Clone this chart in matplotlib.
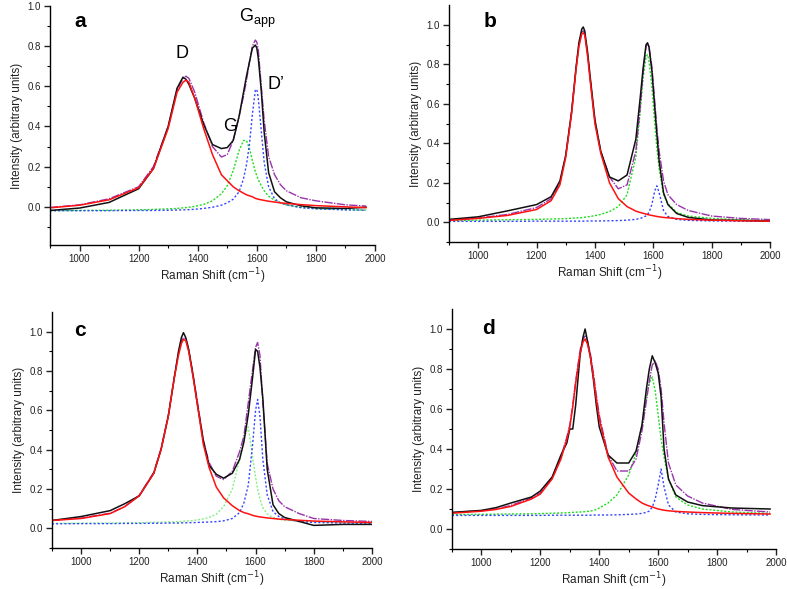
import matplotlib
matplotlib.use('Agg')
import matplotlib.pyplot as plt
from matplotlib.ticker import MultipleLocator, FormatStrFormatter

plt.rcParams['font.family'] = ['Liberation Sans', 'DejaVu Sans']

# ---- panel a ----
xa = [900, 1000, 1100, 1200, 1250, 1300, 1330, 1350, 1360, 1370, 1390, 1420, 1450, 1480, 1500, 1520,
      1540, 1555, 1565, 1575, 1585, 1595, 1600, 1605, 1615, 1625, 1640, 1660, 1680, 1700, 1750, 1800, 1900, 1970]
a_black = [-0.018, -0.006, 0.022, 0.09, 0.19, 0.40, 0.59, 0.645, 0.635, 0.61, 0.54, 0.41, 0.31, 0.29, 0.295, 0.33,
           0.45, 0.57, 0.65, 0.72, 0.79, 0.805, 0.79, 0.74, 0.58, 0.37, 0.17, 0.075, 0.045, 0.025, 0.005, -0.005, -0.008, -0.002]
a_red = [-0.005, 0.008, 0.035, 0.095, 0.19, 0.39, 0.57, 0.62, 0.63, 0.62, 0.54, 0.39, 0.26, 0.16, 0.13, 0.10,
         0.08, 0.068, 0.06, 0.055, 0.05, 0.042, 0.04, 0.038, 0.035, 0.032, 0.028, 0.024, 0.02, 0.017, 0.011, 0.006, 0.0, -0.004]
a_green = [-0.019, -0.018, -0.017, -0.015, -0.013, -0.010, -0.008, -0.005, -0.004, -0.002, 0.002, 0.012, 0.03, 0.065, 0.105, 0.18,
           0.28, 0.33, 0.33, 0.29, 0.23, 0.175, 0.155, 0.135, 0.105, 0.08, 0.053, 0.033, 0.02, 0.01, -0.003, -0.008, -0.014, -0.016]
a_blue = [-0.019, -0.019, -0.019, -0.018, -0.018, -0.017, -0.016, -0.015, -0.015, -0.014, -0.012, -0.008, -0.002, 0.008, 0.02, 0.038,
          0.075, 0.14, 0.21, 0.31, 0.46, 0.58, 0.585, 0.54, 0.38, 0.22, 0.10, 0.04, 0.02, 0.01, -0.004, -0.01, -0.015, -0.017]
a_fit = [-0.003, 0.01, 0.04, 0.10, 0.20, 0.40, 0.58, 0.64, 0.65, 0.64, 0.57, 0.42, 0.30, 0.248, 0.26, 0.33,
         0.45, 0.55, 0.63, 0.72, 0.80, 0.83, 0.82, 0.78, 0.60, 0.43, 0.25, 0.16, 0.11, 0.08, 0.045, 0.03, 0.01, 0.004]

# ---- panel b ----
xb = [900, 1000, 1100, 1200, 1250, 1280, 1300, 1320, 1335, 1345, 1355, 1360, 1365, 1375, 1385, 1400, 1420, 1450, 1480,
      1510, 1540, 1555, 1565, 1575, 1580, 1585, 1595, 1605, 1612, 1620, 1635, 1650, 1680, 1720, 1800, 1900, 2000]
b_black = [0.015, 0.028, 0.058, 0.09, 0.13, 0.21, 0.34, 0.56, 0.78, 0.91, 0.98, 0.99, 0.97, 0.86, 0.72, 0.52, 0.36, 0.23, 0.21,
           0.24, 0.42, 0.63, 0.78, 0.90, 0.91, 0.89, 0.77, 0.58, 0.45, 0.31, 0.15, 0.09, 0.045, 0.025, 0.012, 0.01, 0.006]
b_red = [0.01, 0.02, 0.035, 0.065, 0.11, 0.19, 0.33, 0.55, 0.77, 0.89, 0.955, 0.96, 0.95, 0.84, 0.70, 0.50, 0.35, 0.20, 0.12,
         0.08, 0.057, 0.05, 0.046, 0.042, 0.04, 0.038, 0.035, 0.032, 0.03, 0.028, 0.025, 0.023, 0.019, 0.015, 0.011, 0.008, 0.006]
b_green = [0.009, 0.011, 0.013, 0.015, 0.017, 0.018, 0.019, 0.021, 0.022, 0.023, 0.024, 0.025, 0.026, 0.028, 0.03, 0.034, 0.04, 0.055, 0.08,
           0.14, 0.33, 0.56, 0.73, 0.84, 0.85, 0.82, 0.69, 0.50, 0.38, 0.27, 0.14, 0.095, 0.05, 0.032, 0.02, 0.013, 0.01]
b_blue = [0.005, 0.005, 0.005, 0.006, 0.006, 0.006, 0.006, 0.006, 0.006, 0.006, 0.006, 0.006, 0.006, 0.007, 0.007, 0.007, 0.007, 0.008, 0.009,
          0.011, 0.015, 0.02, 0.025, 0.033, 0.04, 0.05, 0.09, 0.16, 0.185, 0.15, 0.06, 0.03, 0.015, 0.01, 0.007, 0.006, 0.005]
b_fit = [0.012, 0.022, 0.04, 0.075, 0.12, 0.20, 0.34, 0.56, 0.78, 0.90, 0.965, 0.97, 0.96, 0.85, 0.71, 0.51, 0.36, 0.23, 0.17,
         0.19, 0.36, 0.58, 0.76, 0.89, 0.905, 0.895, 0.79, 0.61, 0.48, 0.36, 0.21, 0.14, 0.09, 0.06, 0.032, 0.02, 0.014]

# ---- panel c ----
xc = [900, 1000, 1100, 1150, 1200, 1250, 1275, 1300, 1320, 1335, 1345, 1352, 1360, 1370, 1385, 1400, 1420, 1440, 1465,
      1490, 1520, 1545, 1560, 1575, 1590, 1600, 1607, 1615, 1625, 1640, 1660, 1680, 1700, 1750, 1800, 1900, 2000]
c_black = [0.04, 0.06, 0.09, 0.125, 0.165, 0.28, 0.40, 0.57, 0.76, 0.90, 0.97, 0.995, 0.97, 0.91, 0.78, 0.63, 0.45, 0.32, 0.275,
           0.255, 0.28, 0.35, 0.44, 0.58, 0.77, 0.91, 0.90, 0.82, 0.66, 0.30, 0.12, 0.075, 0.055, 0.035, 0.015, 0.02, 0.02]
c_red = [0.04, 0.05, 0.075, 0.11, 0.165, 0.28, 0.40, 0.57, 0.76, 0.88, 0.94, 0.96, 0.955, 0.90, 0.77, 0.63, 0.43, 0.31, 0.21,
         0.155, 0.115, 0.09, 0.08, 0.074, 0.066, 0.062, 0.06, 0.058, 0.056, 0.053, 0.05, 0.047, 0.045, 0.041, 0.037, 0.033, 0.03]
c_green = [0.025, 0.026, 0.027, 0.028, 0.029, 0.03, 0.031, 0.032, 0.033, 0.034, 0.035, 0.036, 0.037, 0.038, 0.04, 0.043, 0.048, 0.055, 0.072,
           0.11, 0.2, 0.35, 0.46, 0.515, 0.36, 0.26, 0.2, 0.15, 0.105, 0.073, 0.055, 0.046, 0.042, 0.036, 0.033, 0.03, 0.029]
c_blue = [0.023, 0.024, 0.024, 0.025, 0.025, 0.026, 0.026, 0.027, 0.027, 0.027, 0.028, 0.028, 0.028, 0.029, 0.029, 0.03, 0.031, 0.032, 0.034,
          0.038, 0.05, 0.08, 0.13, 0.22, 0.43, 0.60, 0.655, 0.57, 0.35, 0.17, 0.085, 0.06, 0.048, 0.035, 0.03, 0.027, 0.026]
c_fit = [0.04, 0.052, 0.077, 0.11, 0.168, 0.285, 0.405, 0.575, 0.765, 0.89, 0.95, 0.97, 0.965, 0.91, 0.78, 0.645, 0.45, 0.335, 0.265,
         0.248, 0.29, 0.39, 0.47, 0.64, 0.81, 0.92, 0.945, 0.88, 0.64, 0.33, 0.20, 0.14, 0.11, 0.075, 0.05, 0.04, 0.035]

# ---- panel d ----
xd = [900, 1000, 1050, 1100, 1170, 1200, 1240, 1270, 1290, 1300, 1310, 1320, 1335, 1345, 1352, 1360, 1370, 1380, 1390,
      1400, 1430, 1460, 1500, 1525, 1545, 1560, 1570, 1580, 1590, 1600, 1610, 1620, 1635, 1660, 1700, 1750, 1850, 1980]
d_black = [0.083, 0.093, 0.107, 0.13, 0.16, 0.19, 0.26, 0.37, 0.43, 0.50, 0.50, 0.62, 0.87, 0.96, 1.0, 0.94, 0.86, 0.75, 0.62,
           0.51, 0.37, 0.33, 0.33, 0.39, 0.52, 0.70, 0.80, 0.866, 0.83, 0.78, 0.66, 0.40, 0.25, 0.17, 0.135, 0.117, 0.105, 0.10]
d_red = [0.079, 0.089, 0.098, 0.113, 0.15, 0.175, 0.25, 0.35, 0.45, 0.51, 0.61, 0.73, 0.88, 0.935, 0.95, 0.925, 0.86, 0.76, 0.65,
         0.55, 0.36, 0.26, 0.18, 0.15, 0.13, 0.12, 0.115, 0.11, 0.105, 0.10, 0.097, 0.094, 0.091, 0.088, 0.085, 0.082, 0.078, 0.075]
d_green = [0.072, 0.073, 0.074, 0.075, 0.076, 0.077, 0.079, 0.08, 0.081, 0.082, 0.083, 0.084, 0.085, 0.086, 0.087, 0.088, 0.09, 0.093, 0.097,
           0.105, 0.13, 0.17, 0.27, 0.38, 0.52, 0.66, 0.73, 0.76, 0.69, 0.57, 0.45, 0.36, 0.25, 0.16, 0.12, 0.10, 0.085, 0.078]
d_blue = [0.068, 0.068, 0.068, 0.068, 0.068, 0.068, 0.069, 0.069, 0.069, 0.069, 0.069, 0.069, 0.069, 0.069, 0.069, 0.069, 0.069, 0.07, 0.07,
          0.07, 0.07, 0.071, 0.073, 0.075, 0.078, 0.083, 0.09, 0.11, 0.15, 0.22, 0.30, 0.21, 0.12, 0.085, 0.076, 0.073, 0.071, 0.07]
d_fit = [0.082, 0.092, 0.10, 0.118, 0.155, 0.18, 0.255, 0.36, 0.46, 0.52, 0.62, 0.74, 0.895, 0.95, 0.965, 0.94, 0.875, 0.78, 0.67,
         0.57, 0.37, 0.29, 0.29, 0.35, 0.49, 0.64, 0.74, 0.82, 0.84, 0.80, 0.70, 0.53, 0.33, 0.22, 0.165, 0.13, 0.098, 0.085]

panels = [
    ('a', [0.0635, 0.584, 0.413, 0.406], (-0.19, 1.0), (0.075, 0.933), xa, a_black, a_red, a_green, a_blue, a_fit, '#22dd22'),
    ('b', [0.5705, 0.589, 0.408, 0.402], (-0.1, 1.1), (0.108, 0.932), xb, b_black, b_red, b_green, b_blue, b_fit, '#22dd22'),
    ('c', [0.066, 0.0696, 0.4066, 0.4007], (-0.1, 1.1), (0.068, 0.92), xc, c_black, c_red, c_green, c_blue, c_fit, '#88ee88'),
    ('d', [0.5743, 0.0679, 0.4117, 0.4075], (-0.1, 1.1), (0.094, 0.917), xd, d_black, d_red, d_green, d_blue, d_fit, '#22dd22'),
]

fig = plt.figure(figsize=(7.87, 5.89), dpi=100)

for letter, rect, ylim, lpos, x, blk, red, grn, blu, fit, gcol in panels:
    ax = fig.add_axes(rect)
    ax.plot(x, grn, color=gcol, lw=1.0, ls=(0, (1.5, 1.2)))
    ax.plot(x, blu, color='#3344ff', lw=1.0, ls=(0, (1.5, 1.5)))
    ax.plot(x, fit, color='#9933aa', lw=1.0, ls=(0, (6, 1, 1, 1)))
    ax.plot(x, blk, color='#111111', lw=1.1)
    ax.plot(x, red, color='#ff1111', lw=1.1)
    ax.set_xlim(900, 2000)
    ax.set_ylim(*ylim)
    ax.xaxis.set_major_locator(MultipleLocator(200))
    ax.xaxis.set_minor_locator(MultipleLocator(100))
    ax.set_yticks([0.0, 0.2, 0.4, 0.6, 0.8, 1.0])
    ax.set_yticks([-0.1, 0.1, 0.3, 0.5, 0.7, 0.9], minor=True)
    ax.yaxis.set_major_formatter(FormatStrFormatter('%.1f'))
    for s in ['top', 'right']:
        ax.spines[s].set_visible(False)
    ax.spines['left'].set_linewidth(1.0)
    ax.spines['bottom'].set_linewidth(1.0)
    ax.tick_params(which='major', direction='out', length=4, width=1.0, labelsize=7, colors='#222222', pad=2.5)
    ax.tick_params(which='minor', direction='out', length=2.5, width=0.8)
    ax.set_xlabel('Raman Shift (cm$^{-1}$)', fontsize=8.5, color='#222222', labelpad=1.5)
    ax.set_ylabel('Intensity (arbitrary units)', fontsize=8.5, color='#222222', labelpad=3)
    ax.text(lpos[0], lpos[1], letter, transform=ax.transAxes, fontsize=15, fontweight='bold', va='center', ha='left')

# peak labels, panel a
ax_a = fig.axes[0]
ax_a.text(1348, 0.765, 'D', fontsize=13, ha='center', va='center')
ax_a.text(1508, 0.40, 'G', fontsize=13, ha='center', va='center')
ax_a.text(1602, 0.94, 'G$_{\\mathregular{app}}$', fontsize=13, ha='center', va='center')
ax_a.text(1665, 0.61, 'D\u2019', fontsize=13, ha='center', va='center')

fig.savefig('out.png', dpi=100)
